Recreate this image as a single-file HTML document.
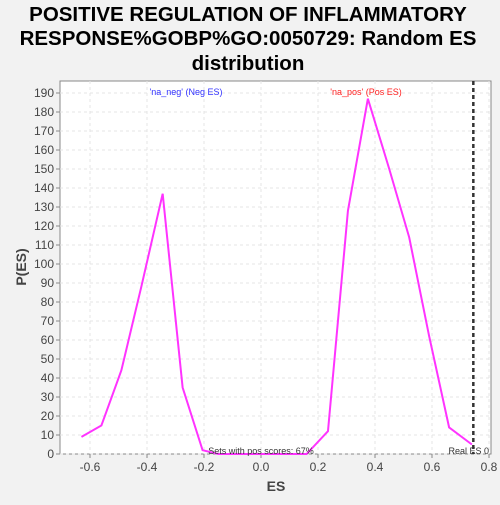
<!DOCTYPE html>
<html><head><style>
body{margin:0;background:#f2f2f2;font-family:"Liberation Sans","DejaVu Sans",sans-serif}
</style></head><body>
<svg id="c" width="500" height="500" xmlns="http://www.w3.org/2000/svg">
<rect width="500" height="500" fill="#f2f2f2"/>
<text x="248" y="21" text-anchor="middle" font-size="20.5" font-weight="bold">POSITIVE REGULATION OF INFLAMMATORY</text>
<text x="248" y="45" text-anchor="middle" font-size="20.5" font-weight="bold">RESPONSE%GOBP%GO:0050729: Random ES</text>
<text x="248" y="70" text-anchor="middle" font-size="20.5" font-weight="bold">distribution</text>
<rect x="60" y="81" width="431" height="373" fill="#fff" stroke="#888"/>
<g id="grid"></g><g id="axes"></g><g id="series"></g>
<text x="186" y="95" text-anchor="middle" font-size="9" fill="#3333ff">'na_neg' (Neg ES)</text>
<text x="366" y="95" text-anchor="middle" font-size="9" fill="#ff2222">'na_pos' (Pos ES)</text>
<text x="261" y="454" text-anchor="middle" font-size="9" fill="#333">Sets with pos scores: 67%</text>
<text x="489" y="454" text-anchor="end" font-size="9" fill="#333">Real ES 0</text>
<text x="276" y="491" text-anchor="middle" font-size="14" font-weight="bold" fill="#444">ES</text>
<text x="26" y="267" text-anchor="middle" font-size="14" font-weight="bold" fill="#444" transform="rotate(-90 26 267)">P(ES)</text>
</svg>
<script>
const xTicks=[-0.6,-0.4,-0.2,0.0,0.2,0.4,0.6,0.8];
const yTicks=[0,10,20,30,40,50,60,70,80,90,100,110,120,130,140,150,160,170,180,190];
const esValues=[-0.63,-0.56,-0.49,-0.42,-0.345,-0.275,-0.205,-0.15,0.16,0.235,0.305,0.375,0.45,0.52,0.59,0.66,0.74];
const pValues=[9,15,44,88,137,35,2,0,0,12,128,187,150,114,62,14,5];
const realES=[0.745];
const X=v=>261+v*285, Y=v=>454-v*1.9;
const ns="http://www.w3.org/2000/svg";
function mk(t,a,p){const e=document.createElementNS(ns,t);for(const k in a)e.setAttribute(k,a[k]);document.getElementById(p).appendChild(e);return e;}
xTicks.forEach(v=>{
 const g=mk('line',{x1:X(v),x2:X(v),y1:81,y2:454,stroke:'#e4e4e4','stroke-dasharray':'3,3'},'grid');
 
 
 const t=mk('line',{x1:X(v),x2:X(v),y1:454,y2:458,stroke:'#888'},'axes');
 
 
 const l=mk('text',{x:X(v),y:471,'text-anchor':'middle','font-size':'12',fill:'#444'},'axes');
 l.textContent=v.toFixed(1);
 
 
});
yTicks.forEach(v=>{
 const g=mk('line',{x1:60,x2:491,y1:Y(v),y2:Y(v),stroke:'#e4e4e4','stroke-dasharray':'3,3'},'grid');
 
 
 const t=mk('line',{x1:56,x2:60,y1:Y(v),y2:Y(v),stroke:'#888'},'axes');
 
 
 const l=mk('text',{x:54,y:Y(v)+4,'text-anchor':'end','font-size':'12',fill:'#444'},'axes');
 l.textContent=v;
 
 
});
const r=mk('line',{x1:X(realES[0]),x2:X(realES[0]),y1:81,y2:454,stroke:'#333','stroke-width':2.5,'stroke-dasharray':'4,3'},'series');


const pl=mk('polyline',{points:esValues.map((v,i)=>X(v)+','+Y(pValues[i])).join(' '),fill:'none',stroke:'#ff33ff','stroke-width':2},'series');


</script>
</body></html>
